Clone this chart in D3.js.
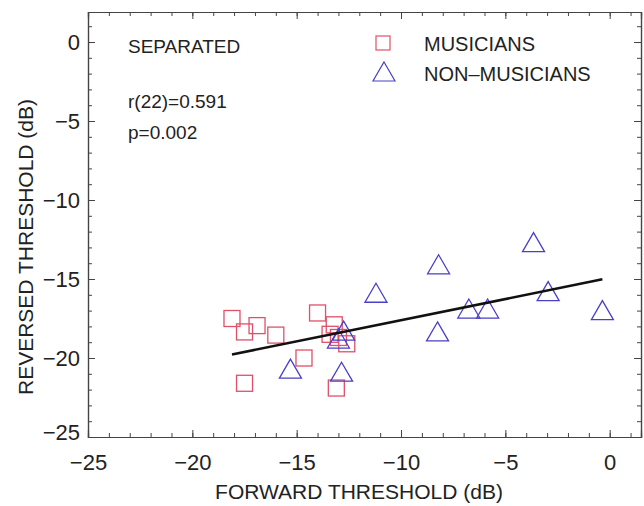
<!DOCTYPE html>
<html>
<head>
<meta charset="utf-8">
<script src="https://cdn.jsdelivr.net/npm/d3@7"></script>
<style>
  body { margin: 0; background: #fff; }
  svg text { font-family: "Liberation Sans", Arial, sans-serif; fill: #222; }
</style>
</head>
<body>
<div id="chart"></div>
<script>
// musicians (squares): forward, reversed threshold (dB)
const musiciansX = [-18.1, -17.5, -16.9, -16.0, -17.5, -14.0, -14.65, -13.2, -13.4, -13.0, -12.6, -13.1];
const musiciansY = [-17.5, -18.35, -17.95, -18.55, -21.6, -17.15, -20.0, -17.9, -18.5, -18.7, -19.1, -21.9];
// non-musicians (triangles)
const nonMusiciansX = [-15.3, -12.85, -12.75, -13.0, -11.2, -8.2, -8.25, -6.75, -5.85, -3.65, -2.95, -0.35];
const nonMusiciansY = [-20.7, -20.9, -18.3, -18.8, -15.9, -14.1, -18.35, -16.9, -16.9, -12.7, -15.8, -17.0];

const xTicks = [-25, -20, -15, -10, -5, 0];
const yTicks = [-25, -20, -15, -10, -5, 0];
const legendLabels = ['MUSICIANS', 'NON\u2013MUSICIANS'];
const notes = ['SEPARATED', 'r(22)=0.591', 'p=0.002'];

const width = 644, height = 506;
const plotLeft = 88, plotRight = 641, plotTop = 12, plotBottom = 437;

const svg = d3.select('#chart').append('svg')
    .attr('width', width)
    .attr('height', height);

const x = d3.scaleLinear().domain([-25, 1.5]).range([plotLeft, plotRight]);
const y = d3.scaleLinear().domain([-25, 1.9]).range([plotBottom, plotTop]);

const axisColor = '#444';
const minorX = d3.range(-25, 2, 1);
const minorY = d3.range(-25, 2, 1);

// 枠と目盛り（内向き）
function drawAxis(axis, translate) {
    const g = svg.append('g').attr('transform', translate).call(axis);
    g.select('.domain').attr('stroke', axisColor).attr('stroke-width', 1.2);
    g.selectAll('.tick line').attr('stroke', axisColor).attr('stroke-width', 1);
    return g;
}

// 副目盛り
drawAxis(d3.axisBottom(x).tickValues(minorX).tickSize(-4).tickFormat(''), `translate(0,${plotBottom})`);
drawAxis(d3.axisTop(x).tickValues(minorX).tickSize(-4).tickFormat(''), `translate(0,${plotTop})`);
drawAxis(d3.axisLeft(y).tickValues(minorY).tickSize(-4).tickFormat(''), `translate(${plotLeft},0)`);
drawAxis(d3.axisRight(y).tickValues(minorY).tickSize(-4).tickFormat(''), `translate(${plotRight},0)`);

// 主目盛り
const fmt = d => d < 0 ? '\u2212' + Math.abs(d) : String(d);
const xAxisG = drawAxis(d3.axisBottom(x).tickValues(xTicks).tickSize(-7).tickPadding(17).tickFormat(fmt), `translate(0,${plotBottom})`);
xAxisG.selectAll('.tick text').attr('font-size', 22).attr('fill', '#222')
    .style('font-family', '"Liberation Sans", Arial, sans-serif');
const yAxisG = drawAxis(d3.axisLeft(y).tickValues(yTicks).tickSize(-7).tickPadding(8).tickFormat(fmt), `translate(${plotLeft},0)`);
yAxisG.selectAll('.tick text').attr('font-size', 22).attr('fill', '#222')
    .style('font-family', '"Liberation Sans", Arial, sans-serif');
yAxisG.selectAll('.tick').filter(d => d === -25).select('text').attr('dy', '0.1em');
drawAxis(d3.axisTop(x).tickValues(xTicks).tickSize(-7).tickFormat(''), `translate(0,${plotTop})`);
drawAxis(d3.axisRight(y).tickValues(yTicks).tickSize(-7).tickFormat(''), `translate(${plotRight},0)`);

// 軸ラベル
svg.append('text')
    .attr('x', 359)
    .attr('y', 499)
    .attr('text-anchor', 'middle')
    .attr('font-size', 21)
    .text('FORWARD THRESHOLD (dB)');

svg.append('text')
    .attr('transform', 'translate(33,247) rotate(-90)')
    .attr('text-anchor', 'middle')
    .attr('font-size', 21)
    .text('REVERSED THRESHOLD (dB)');

// マーカー
const sqColor = '#e0506a';
const triColor = '#4a3fc8';
const sq = 16;
const triPath = 'M0,-10L11,9L-11,9Z';

const musicians = musiciansX.map((v, i) => ({ x: v, y: musiciansY[i] }));
const nonMusicians = nonMusiciansX.map((v, i) => ({ x: v, y: nonMusiciansY[i] }));

svg.selectAll('.m').data(musicians).enter().append('rect')
    .attr('class', 'm')
    .attr('x', d => x(d.x) - sq / 2)
    .attr('y', d => y(d.y) - sq / 2)
    .attr('width', sq)
    .attr('height', sq)
    .attr('fill', 'none')
    .attr('stroke', sqColor)
    .attr('stroke-width', 1.3);

svg.selectAll('.n').data(nonMusicians).enter().append('path')
    .attr('class', 'n')
    .attr('d', triPath)
    .attr('transform', d => `translate(${x(d.x)},${y(d.y)})`)
    .attr('fill', 'none')
    .attr('stroke', triColor)
    .attr('stroke-width', 1.3);

// 回帰直線（全データの最小二乗）
const all = musicians.concat(nonMusicians);
const mx = d3.mean(all, d => d.x), my = d3.mean(all, d => d.y);
const slope = d3.sum(all, d => (d.x - mx) * (d.y - my)) / d3.sum(all, d => (d.x - mx) ** 2);
const icpt = my - slope * mx;
const [x0, x1] = d3.extent(all, d => d.x);
svg.append('line')
    .attr('x1', x(x0)).attr('y1', y(icpt + slope * x0))
    .attr('x2', x(x1)).attr('y2', y(icpt + slope * x1))
    .attr('stroke', '#111')
    .attr('stroke-width', 2.6);

// 注記
notes.forEach((t, i) => {
    svg.append('text')
        .attr('x', 128)
        .attr('y', [53, 108, 139][i])
        .attr('font-size', 19)
        .text(t);
});

// 凡例
const lg = svg.append('g');
lg.append('rect')
    .attr('x', 383 - 7).attr('y', 43 - 7).attr('width', 14).attr('height', 14)
    .attr('fill', 'none').attr('stroke', sqColor).attr('stroke-width', 1.2);
lg.append('path')
    .attr('d', triPath)
    .attr('transform', 'translate(384,72)')
    .attr('fill', 'none').attr('stroke', triColor).attr('stroke-width', 1.2);
legendLabels.forEach((t, i) => {
    lg.append('text')
        .attr('x', 424)
        .attr('y', 51 + i * 30)
        .attr('font-size', 20)
        .text(t);
});
</script>
</body>
</html>
